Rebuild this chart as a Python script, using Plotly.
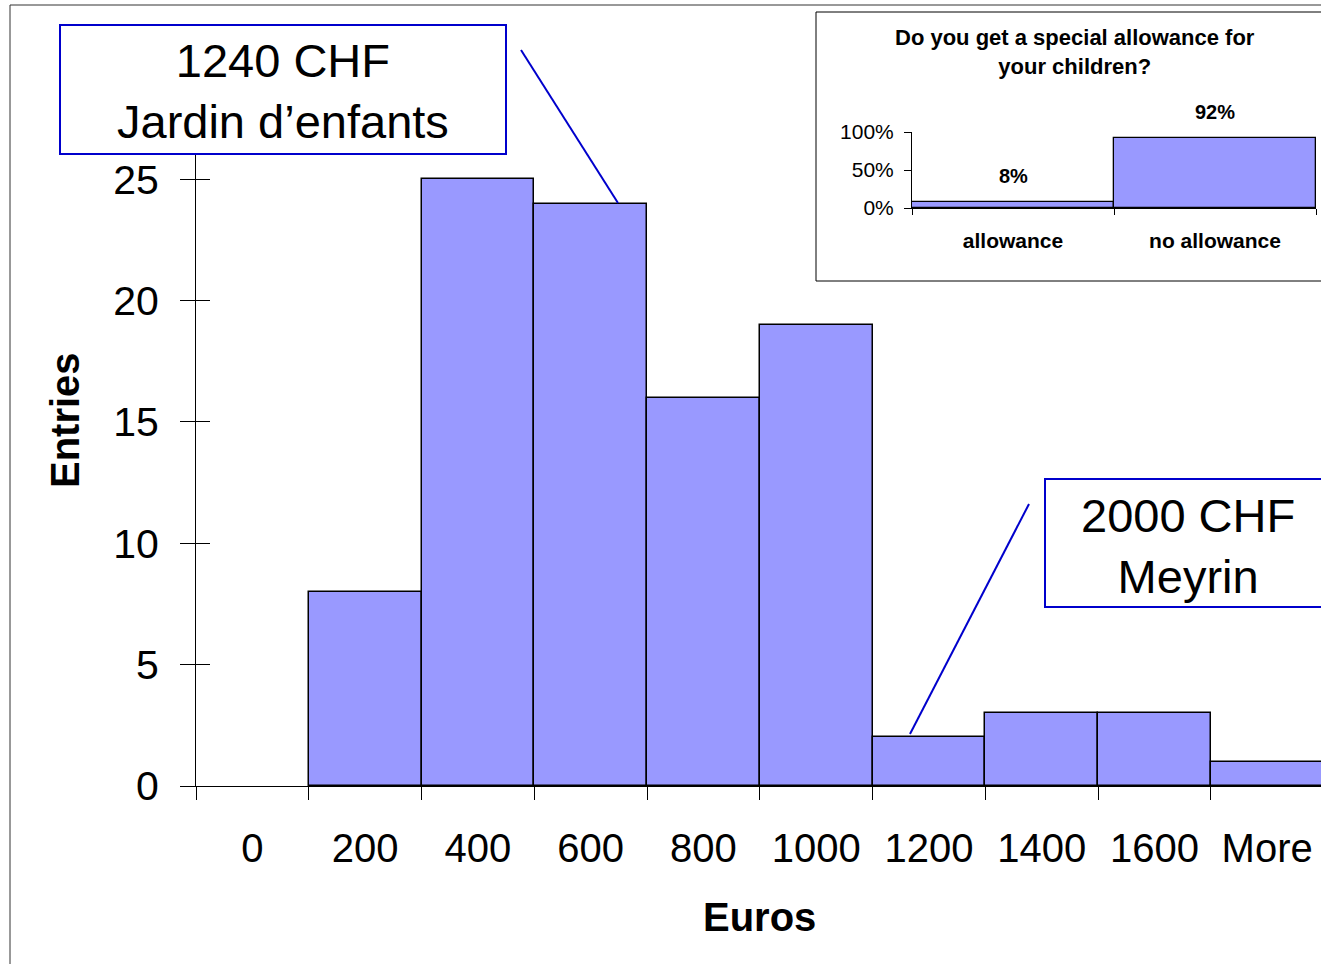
import plotly.graph_objects as go

# ---- data ----
categories = ["0", "200", "400", "600", "800", "1000", "1200", "1400", "1600", "More"]
entries = [0, 8, 25, 24, 16, 19, 2, 3, 3, 1]

inset_categories = ["allowance", "no allowance"]
inset_values = [0.08, 0.92]
inset_labels = ["8%", "92%"]

y_ticks = [0, 5, 10, 15, 20, 25]
inset_y_ticks = [0, 0.5, 1.0]

# ---- layout helpers (viewport pixel -> paper); body margin removed via post_script ----
W, H = 1321, 964
def px(x):
    return x / W
def py(y):
    return 1 - y / H

FONT = "Arial, Liberation Sans, sans-serif"
BAR = "#9999FF"
BLUE = "#0000CC"

fig = go.Figure()

fig.add_trace(go.Bar(
    x=categories, y=entries,
    marker=dict(color=BAR, line=dict(color="black", width=[0 if v == 0 else 1.5 for v in entries])),
    xaxis="x", yaxis="y", showlegend=False, hoverinfo="skip",
))
# empty trace so that the overlaying tick axis (inside ticks) is drawn
fig.add_trace(go.Scatter(x=[], y=[], xaxis="x", yaxis="y3", showlegend=False, hoverinfo="skip"))

fig.add_trace(go.Bar(
    x=inset_categories, y=inset_values,
    marker=dict(color=BAR, line=dict(color="black", width=1.3)),
    xaxis="x2", yaxis="y2", showlegend=False, hoverinfo="skip",
))

cat_w = 112.75  # pixel width of one category

fig.update_layout(
    template="none",
    width=W, height=H,
    margin=dict(l=0, r=0, t=0, b=0, pad=0),
    paper_bgcolor="white", plot_bgcolor="rgba(0,0,0,0)",
    bargap=0,
    font=dict(family=FONT, color="black"),
    xaxis=dict(
        type="category", automargin=False,
        domain=[px(196), 1],
        range=[-0.5, -0.5 + (W - 196) / cat_w],
        tickson="boundaries", ticks="outside", ticklen=13, tickcolor="black", tickwidth=1,
        showline=True, linecolor="black", linewidth=1,
        showgrid=False, zeroline=False,
        tickfont=dict(size=40, family=FONT), ticklabelstandoff=27,
        anchor="y",
    ),
    yaxis=dict(
        automargin=False,
        domain=[py(786), py(155)], range=[0, 26],
        tickmode="array", tickvals=y_ticks,
        ticks="outside", ticklen=15, tickcolor="black", tickwidth=1,
        showline=True, linecolor="black", linewidth=1,
        showgrid=False, zeroline=False,
        tickfont=dict(size=41, family=FONT), ticklabelstandoff=13,
        anchor="x",
    ),
    yaxis3=dict(
        automargin=False,
        domain=[py(786), py(155)], range=[0, 26], overlaying="y",
        tickmode="array", tickvals=y_ticks, showticklabels=False,
        ticks="inside", ticklen=14, tickcolor="black", tickwidth=1,
        showline=False, showgrid=False, zeroline=False, anchor="x",
    ),
    xaxis2=dict(
        type="category", automargin=False,
        domain=[px(912), px(1316)], anchor="y2",
        tickson="boundaries", ticks="outside", ticklen=6, tickcolor="black",
        showline=True, linecolor="black", linewidth=1,
        showgrid=False, zeroline=False,
        tickfont=dict(size=21, family=FONT, weight="bold"), ticklabelstandoff=14,
    ),
    yaxis2=dict(
        automargin=False,
        domain=[py(208), py(132)], range=[0, 1], anchor="x2",
        tickmode="array", tickvals=inset_y_ticks, tickformat=".0%",
        ticks="outside", ticklen=7, tickcolor="black",
        showline=True, linecolor="black", linewidth=1,
        showgrid=False, zeroline=False,
        tickfont=dict(size=21, family=FONT), ticklabelstandoff=6,
    ),
)

shapes = []
# outer frame (left & top edges)
shapes.append(dict(type="line", xref="paper", yref="paper", x0=px(10), y0=py(5), x1=px(10), y1=py(980),
                   line=dict(color="#333333", width=1), layer="below"))
shapes.append(dict(type="line", xref="paper", yref="paper", x0=px(10), y0=py(5), x1=px(1340), y1=py(5),
                   line=dict(color="#333333", width=1), layer="below"))
# inset frame
shapes.append(dict(type="rect", xref="paper", yref="paper", x0=px(816), y0=py(281), x1=px(1345), y1=py(12),
                   line=dict(color="black", width=1), fillcolor="white", layer="below"))
# callout boxes
shapes.append(dict(type="rect", xref="paper", yref="paper", x0=px(60), y0=py(154), x1=px(506), y1=py(25),
                   line=dict(color=BLUE, width=2), fillcolor="white", layer="above"))
shapes.append(dict(type="rect", xref="paper", yref="paper", x0=px(1045), y0=py(607), x1=px(1345), y1=py(479),
                   line=dict(color=BLUE, width=2), fillcolor="white", layer="above"))
# leader lines
shapes.append(dict(type="line", xref="paper", yref="paper", x0=px(521), y0=py(50), x1=px(618), y1=py(203),
                   line=dict(color=BLUE, width=2), layer="above"))
shapes.append(dict(type="line", xref="paper", yref="paper", x0=px(1029), y0=py(504), x1=px(910), y1=py(734),
                   line=dict(color=BLUE, width=2), layer="above"))
fig.update_layout(shapes=shapes)

annotations = [
    dict(text="1240 CHF<br>Jardin d’enfants", xref="paper", yref="paper", x=px(283), y=py(91),
         xanchor="center", yanchor="middle", showarrow=False, font=dict(size=47, family=FONT)),
    dict(text="2000 CHF<br>Meyrin", xref="paper", yref="paper", x=px(1188), y=py(546),
         xanchor="center", yanchor="middle", showarrow=False, font=dict(size=47, family=FONT)),
    dict(text="<b>Entries</b>", xref="paper", yref="paper", x=px(65), y=py(420), textangle=-90,
         xanchor="center", yanchor="middle", showarrow=False, font=dict(size=40, family=FONT)),
    dict(text="<b>Euros</b>", xref="paper", yref="paper", x=px(759), y=py(917),
         xanchor="center", yanchor="middle", showarrow=False, font=dict(size=40, family=FONT)),
    dict(text="<b>Do you get a special allowance for<br>your children?</b>", xref="paper", yref="paper",
         x=px(1075), y=py(52), xanchor="center", yanchor="middle", showarrow=False,
         font=dict(size=22, family=FONT)),
]
for cat, val, lab in zip(inset_categories, inset_values, inset_labels):
    annotations.append(dict(text=f"<b>{lab}</b>", x=cat, y=val, xref="x2", yref="y2",
                            showarrow=False, yshift=26, yanchor="middle",
                            font=dict(size=20, family=FONT)))
fig.update_layout(annotations=annotations)

fig.write_html("out.html",
               config={"displayModeBar": False},
               post_script="document.body.style.margin='0';document.body.style.overflow='hidden';")
